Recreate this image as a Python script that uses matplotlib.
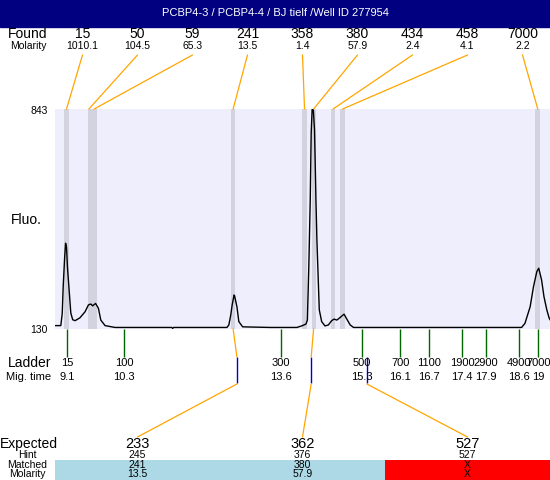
import matplotlib
matplotlib.use('Agg')
import matplotlib.pyplot as plt
from matplotlib.patches import Rectangle, ConnectionPatch

plt.rcParams['font.family'] = ['Liberation Sans', 'DejaVu Sans']

title = 'PCBP4-3 / PCBP4-4 / BJ tielf /Well ID 277954'

# found peaks
found_size = ['15', '50', '59', '241', '358', '380', '434', '458', '7000']
found_molarity = ['1010.1', '104.5', '65.3', '13.5', '1.4', '57.9', '2.4', '4.1', '2.2']
found_time = [9.09, 9.56, 9.67, 12.59, 14.09, 14.28, 14.69, 14.89, 18.99]
peak_start = [9.04, 9.54, 9.60, 12.55, 14.04, 14.25, 14.65, 14.84, 18.93]
peak_end = [9.14, 9.63, 9.73, 12.63, 14.14, 14.33, 14.73, 14.94, 19.04]

# ladder
ladder_size = ['15', '100', '300', '500', '700', '1100', '1900', '2900', '4900', '7000']
ladder_time = [9.1, 10.3, 13.6, 15.3, 16.1, 16.7, 17.4, 17.9, 18.6, 19.0]
ladder_label = ['9.1', '10.3', '13.6', '15.3', '16.1', '16.7', '17.4', '17.9', '18.6', '19']

# expected fragments
expected_size = ['233', '362', '527']
expected_hint = ['245', '376', '527']
expected_matched = ['241', '380', 'X']
expected_molarity = ['13.5', '57.9', 'X']
expected_time = [12.67, 14.23, 15.40]
matched_time = [12.59, 14.28, None]

# electropherogram trace (migration time in min, fluorescence)
trace_t = [8.85, 8.97, 9.00, 9.02, 9.05, 9.07, 9.09, 9.11, 9.14, 9.18, 9.22, 9.27,
           9.37, 9.48, 9.55, 9.60, 9.64, 9.70, 9.76, 9.81, 9.90, 10.11, 11.30,
           11.32, 11.34, 12.46, 12.50, 12.54, 12.57, 12.61, 12.62, 12.67, 12.71, 12.79,
           13.37, 13.93, 14.03, 14.12, 14.15, 14.18, 14.21, 14.23, 14.26, 14.30,
           14.33, 14.35, 14.40, 14.45, 14.52, 14.59, 14.66, 14.71, 14.77, 14.82,
           14.92, 14.99, 15.05, 15.12, 16.10, 18.65, 18.72, 18.83, 18.90, 18.97,
           19.01, 19.07, 19.12, 19.18, 19.23, 19.25]
trace_f = [141, 141, 180, 267, 360, 408, 395, 330, 266, 182, 160, 157,
           166, 186, 208, 211, 205, 213, 197, 159, 141, 135, 135,
           132, 135, 135, 143, 175, 208, 240, 238, 202, 154, 137,
           135, 135, 140, 146, 159, 332, 548, 765, 880, 775,
           548, 418, 192, 154, 140, 143, 157, 162, 159, 165,
           178, 159, 143, 135, 135, 135, 148, 202, 267, 316,
           327, 289, 235, 192, 165, 160]

W, H = 550, 480
fig = plt.figure(figsize=(W / 100, H / 100), dpi=100)

# layout layer in pixel units
lay = fig.add_axes([0, 0, 1, 1])
lay.set_xlim(0, W)
lay.set_ylim(H, 0)
lay.axis('off')

# plot area
px0, px1, py0, py1 = 55, 550, 109, 329
ax = fig.add_axes([px0 / W, (H - py1) / H, (px1 - px0) / W, (py1 - py0) / H])
ax.set_facecolor('#EEEEFC')
for s in ax.spines.values():
    s.set_visible(False)
ax.set_xticks([])
ax.set_yticks([])
ax.set_xlim(8.848, 19.247)
ax.set_ylim(130, 843)

for a, b in zip(peak_start, peak_end):
    ax.axvspan(a, b, color='#D3D3DF', lw=0)
ax.plot(trace_t, trace_f, color='black', lw=1)

# title bar
lay.add_patch(Rectangle((0, 0), W, 27, color='#000080'))
lay.text(W / 2, 13.5, title, color='white', fontsize=8, ha='center', va='center')

# found row
lay.text(8, 34, 'Found', fontsize=10, ha='left', va='center')
lay.text(10, 46, 'Molarity', fontsize=7.5, ha='left', va='center')
col_w = (px1 - px0) / len(found_size)
xfa = ax.get_xaxis_transform()
for i, (s, m, t) in enumerate(zip(found_size, found_molarity, found_time)):
    cx = px0 + col_w * (i + 0.5)
    lay.text(cx, 34, s, fontsize=10, ha='center', va='center')
    lay.text(cx, 46, m, fontsize=7.5, ha='center', va='center')
    fig.add_artist(ConnectionPatch((cx, 55), (t, 1.0), coordsA=lay.transData,
                                   coordsB=xfa, color='#FFA500', lw=0.9))

# y labels
lay.text(48, 111, '843', fontsize=7.5, ha='right', va='center')
lay.text(48, 330, '130', fontsize=7.5, ha='right', va='center')
lay.text(11, 220, 'Fluo.', fontsize=10, ha='left', va='center')

# ladder
lay.text(8, 363, 'Ladder', fontsize=10, ha='left', va='center')
lay.text(6, 377, 'Mig. time', fontsize=8, ha='left', va='center')
ph = py1 - py0
ax.vlines(ladder_time, -28 / ph, 0, transform=xfa, color='#006400', lw=1, clip_on=False)
for s, t, lbl in zip(ladder_size, ladder_time, ladder_label):
    ax.text(t, -34 / ph, s, transform=xfa, fontsize=8, ha='center', va='center')
    ax.text(t, -48 / ph, lbl, transform=xfa, fontsize=8, ha='center', va='center')

# expected
lay.text(0, 444, 'Expected', fontsize=10, ha='left', va='center')
lay.text(27, 455, 'Hint', fontsize=7.5, ha='center', va='center')
lay.text(27, 465, 'Matched', fontsize=7.5, ha='center', va='center')
lay.text(27, 474, 'Molarity', fontsize=7.5, ha='center', va='center')
ecol_w = (px1 - px0) / len(expected_size)
ax.vlines(expected_time, -54 / ph, -28 / ph, transform=xfa, color='#0000CC', lw=1,
          clip_on=False)
for i in range(len(expected_size)):
    cx = px0 + ecol_w * (i + 0.5)
    fc = '#ADD8E6' if matched_time[i] is not None else '#FF0000'
    lay.add_patch(Rectangle((px0 + ecol_w * i, 460), ecol_w, 20, color=fc, lw=0))
    lay.text(cx, 444, expected_size[i], fontsize=10.5, ha='center', va='center')
    lay.text(cx, 455, expected_hint[i], fontsize=7.5, ha='center', va='center')
    lay.text(cx, 465, expected_matched[i], fontsize=7.5, ha='center', va='center')
    lay.text(cx, 474, expected_molarity[i], fontsize=7.5, ha='center', va='center')
    fig.add_artist(ConnectionPatch((expected_time[i], -55 / ph), (cx, 437),
                                   coordsA=xfa, coordsB=lay.transData,
                                   color='#FFA500', lw=0.9))
    if matched_time[i] is not None:
        fig.add_artist(ConnectionPatch((matched_time[i], 0), (expected_time[i], -28 / ph),
                                       coordsA=xfa, coordsB=xfa,
                                       color='#FFA500', lw=0.9))

fig.savefig('out.png', dpi=100)
